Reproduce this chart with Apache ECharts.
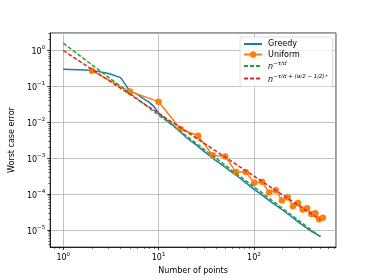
<!DOCTYPE html>
<html><head><meta charset="utf-8">
<script src="https://cdn.jsdelivr.net/npm/echarts@6/dist/echarts.min.js"></script>
<style>html,body{margin:0;padding:0;background:#fff}#c{width:374px;height:280px}</style>
</head><body><div id="c"></div><script>
// ---- data ----
const greedyN = [1, 2, 3, 4, 5, 6, 7, 8, 9, 10, 12, 14, 16, 20, 25, 30, 40, 50, 60, 70, 80, 100, 120, 150, 200, 250, 300, 400, 500];
const greedyV = [0.30, 0.28, 0.23, 0.176, 0.074, 0.06, 0.045, 0.036, 0.027, 0.018, 0.012, 0.0085, 0.0062, 0.0036, 0.0023, 0.00155, 0.00085, 0.00056, 0.00039, 0.00029, 0.00022, 0.000138, 0.000097, 0.000062, 0.000036, 0.000023, 0.0000158, 0.0000092, 0.0000066];
const uniformN = [2, 5, 10, 17, 26, 37, 50, 65, 82, 101, 122, 145, 170, 197, 226, 257, 290, 325, 362, 401, 442, 485, 530];
const uniformV = [0.275, 0.072, 0.0376, 0.0065, 0.0042, 0.0012, 0.00112, 0.00041, 0.00041, 0.000207, 0.00022, 0.00011, 0.000128, 0.000066, 0.000082, 0.000046, 0.000056, 0.000037, 0.00004, 0.000028, 0.000029, 0.00002, 0.000022];
const rateN = [1, 500];
const rateGreenV = [1.6, 0.0000064];
const rateRedV = [1.0, 0.000019];
const xMinorTicks = [0.8, 0.9, 2, 3, 4, 5, 6, 7, 8, 9, 20, 30, 40, 50, 60, 70, 80, 90, 200, 300, 400, 500, 600, 700];
const yMinorTicks = [4e-6, 5e-6, 6e-6, 7e-6, 8e-6, 9e-6, 2e-5, 3e-5, 4e-5, 5e-5, 6e-5, 7e-5, 8e-5, 9e-5, 2e-4, 3e-4, 4e-4, 5e-4, 6e-4, 7e-4, 8e-4, 9e-4, 2e-3, 3e-3, 4e-3, 5e-3, 6e-3, 7e-3, 8e-3, 9e-3, 2e-2, 3e-2, 4e-2, 5e-2, 6e-2, 7e-2, 8e-2, 9e-2, 0.2, 0.3, 0.4, 0.5, 0.6, 0.7, 0.8, 0.9, 2, 3];
const seriesNames = ['Greedy', 'Uniform', 'rateA', 'rateB'];
const X_MIN = 0.729, X_MAX = 727, Y_MIN = 3.33e-6, Y_MAX = 3.08;

const FONT = 'DejaVu Sans';
const zip = (a, b) => a.map((v, i) => [v, b[i]]);
const supRich = {
  b: {fontSize: 8, fontFamily: FONT, color: '#000', lineHeight: 11, verticalAlign: 'bottom'},
  s: {fontSize: 5.5, fontFamily: FONT, color: '#000', lineHeight: 7, verticalAlign: 'top'}
};
function powLabel(v) {
  const l = Math.log10(v), e = Math.round(l);
  if (Math.abs(l - e) > 1e-6) return '';
  return '{b|10}{s|' + String(e).replace('-', '\u2212') + '}';
}
const chart = echarts.init(document.getElementById('c'), null, {renderer: 'canvas'});
const noSym = {opacity: 0};
chart.setOption({
  animation: false,
  backgroundColor: '#fff',
  textStyle: {fontFamily: FONT},
  grid: {left: 46, right: 38, top: 33, bottom: 31, show: true, borderColor: '#000', borderWidth: 0.8, backgroundColor: 'transparent'},
  legend: {
    data: [
      {name: seriesNames[0], itemStyle: noSym},
      {name: seriesNames[1]},
      {name: seriesNames[2], itemStyle: noSym},
      {name: seriesNames[3], itemStyle: noSym}
    ],
    orient: 'vertical', right: 41.5, top: 37,
    itemWidth: 18, itemHeight: 8, itemGap: 2.5,
    padding: [3, 4, 3, 3],
    borderColor: '#d5d5d5', borderWidth: 0.8, borderRadius: 2,
    backgroundColor: 'rgba(255,255,255,0.8)',
    textStyle: {fontFamily: FONT, fontSize: 8, color: '#000', padding: [0, 0, 0, 1],
      rich: {
        i: {fontFamily: FONT, fontSize: 8, fontStyle: 'italic', verticalAlign: 'bottom', lineHeight: 10},
        s: {fontFamily: FONT, fontSize: 5.5, fontStyle: 'italic', verticalAlign: 'top', lineHeight: 6},
        u: {fontFamily: FONT, fontSize: 4.5, verticalAlign: 'top', lineHeight: 8}
      }},
    formatter: function (name) {
      if (name === 'rateA') return '{i|n}{s|\u2212\u03c4/d}';
      if (name === 'rateB') return '{i|n}{s|\u2212\u03c4/d + (\u03b1/2 \u2212 1/2)}{u|+}';
      return name;
    }
  },
  xAxis: [{
    type: 'log', min: X_MIN, max: X_MAX, gridIndex: 0,
    name: 'Number of points', nameLocation: 'middle', nameGap: 14,
    nameTextStyle: {fontFamily: FONT, fontSize: 8, color: '#000'},
    axisLine: {show: true, onZero: false, lineStyle: {color: '#000', width: 0.8}},
    axisTick: {show: true, length: 3, lineStyle: {color: '#000', width: 0.8}},
    axisLabel: {formatter: powLabel, rich: supRich, margin: 4, showMinLabel: false, showMaxLabel: false},
    splitLine: {show: true, lineStyle: {color: '#b0b0b0', width: 0.8}},
    minorTick: {show: false}
  }, {
    type: 'value', min: Math.log10(X_MIN), max: Math.log10(X_MAX), gridIndex: 0, position: 'bottom',
    axisLine: {show: false, onZero: false}, axisLabel: {show: false}, splitLine: {show: false},
    axisTick: {show: true, customValues: xMinorTicks.map(Math.log10), length: 1.8, lineStyle: {color: '#000', width: 0.6}}
  }],
  yAxis: [{
    type: 'log', min: Y_MIN, max: Y_MAX, gridIndex: 0,
    name: 'Worst case error', nameLocation: 'middle', nameGap: 29,
    nameTextStyle: {fontFamily: FONT, fontSize: 8, color: '#000'},
    axisLine: {show: true, onZero: false, lineStyle: {color: '#000', width: 0.8}},
    axisTick: {show: true, length: 3, lineStyle: {color: '#000', width: 0.8}},
    axisLabel: {formatter: powLabel, rich: supRich, margin: 5, showMinLabel: false, showMaxLabel: false},
    splitLine: {show: true, lineStyle: {color: '#b0b0b0', width: 0.8}},
    minorTick: {show: false}
  }, {
    type: 'value', min: Math.log10(Y_MIN), max: Math.log10(Y_MAX), gridIndex: 0, position: 'left',
    axisLine: {show: false, onZero: false}, axisLabel: {show: false}, splitLine: {show: false},
    axisTick: {show: true, customValues: yMinorTicks.map(Math.log10), length: 1.8, lineStyle: {color: '#000', width: 0.6}}
  }],
  series: [
    {name: 'Greedy', type: 'line', data: zip(greedyN, greedyV), symbol: 'none', color: '#1f77b4',
      lineStyle: {width: 1.5, color: '#1f77b4'}, z: 3},
    {name: 'Uniform', type: 'line', data: zip(uniformN, uniformV), symbol: 'circle', symbolSize: 6.5, color: '#ff7f0e',
      itemStyle: {color: '#ff7f0e'}, lineStyle: {width: 1.5, color: '#ff7f0e'}, z: 4},
    {name: 'rateA', type: 'line', data: zip(rateN, rateGreenV), symbol: 'none', color: '#2ca02c',
      lineStyle: {width: 1.5, color: '#2ca02c', type: [4, 2]}, z: 5},
    {name: 'rateB', type: 'line', data: zip(rateN, rateRedV), symbol: 'none', color: '#d62728',
      lineStyle: {width: 1.5, color: '#d62728', type: [4, 2]}, z: 6}
  ]
});
</script></body></html>
